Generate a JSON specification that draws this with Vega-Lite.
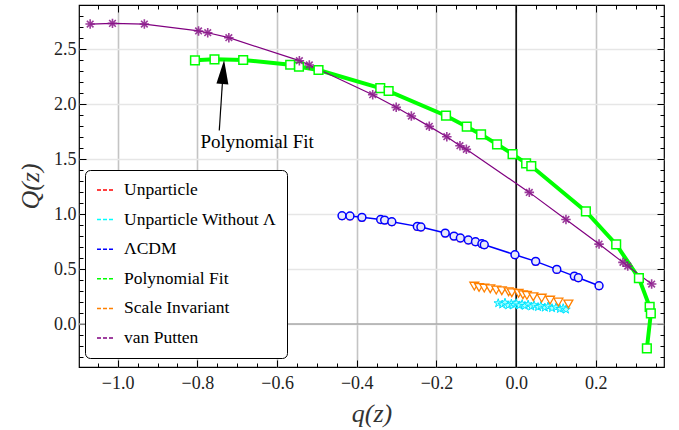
{
  "$schema": "https://vega.github.io/schema/vega-lite/v6.json",
  "width": 585,
  "height": 362,
  "autosize": {"type": "none"},
  "padding": {"left": 79, "top": 5, "right": 15, "bottom": 63},
  "background": "white",
  "config": {
    "view": {"stroke": "black", "strokeWidth": 1.2},
    "font": "Liberation Serif",
    "axis": {
      "domain": false,
      "labelFont": "Liberation Serif",
      "labelFontSize": 18,
      "labelColor": "#222222",
      "tickColor": "black",
      "titleFont": "Liberation Serif",
      "titleFontStyle": "italic",
      "titleFontWeight": "normal",
      "titleFontSize": 26,
      "titleColor": "#333333"
    }
  },
  "datasets": {
    "pts": [
      {"s": "van Putten", "q": -1.069, "Q": 2.727},
      {"s": "van Putten", "q": -1.013, "Q": 2.733},
      {"s": "van Putten", "q": -0.933, "Q": 2.727},
      {"s": "van Putten", "q": -0.797, "Q": 2.664},
      {"s": "van Putten", "q": -0.774, "Q": 2.648},
      {"s": "van Putten", "q": -0.721, "Q": 2.603},
      {"s": "van Putten", "q": -0.544, "Q": 2.394},
      {"s": "van Putten", "q": -0.519, "Q": 2.355},
      {"s": "van Putten", "q": -0.36, "Q": 2.085},
      {"s": "van Putten", "q": -0.301, "Q": 1.97},
      {"s": "van Putten", "q": -0.263, "Q": 1.891},
      {"s": "van Putten", "q": -0.218, "Q": 1.797},
      {"s": "van Putten", "q": -0.174, "Q": 1.703},
      {"s": "van Putten", "q": -0.141, "Q": 1.621},
      {"s": "van Putten", "q": -0.125, "Q": 1.588},
      {"s": "van Putten", "q": 0.033, "Q": 1.197},
      {"s": "van Putten", "q": 0.125, "Q": 0.951},
      {"s": "van Putten", "q": 0.208, "Q": 0.727},
      {"s": "van Putten", "q": 0.268, "Q": 0.561},
      {"s": "van Putten", "q": 0.28, "Q": 0.527},
      {"s": "van Putten", "q": 0.34, "Q": 0.364},
      {"s": "Polynomial Fit", "k": 1, "q": -0.806, "Q": 2.397},
      {"s": "Polynomial Fit", "k": 2, "q": -0.757, "Q": 2.406},
      {"s": "Polynomial Fit", "k": 3, "q": -0.685, "Q": 2.4},
      {"s": "Polynomial Fit", "k": 4, "q": -0.567, "Q": 2.357},
      {"s": "Polynomial Fit", "k": 5, "q": -0.545, "Q": 2.339},
      {"s": "Polynomial Fit", "k": 6, "q": -0.496, "Q": 2.309},
      {"s": "Polynomial Fit", "k": 7, "q": -0.341, "Q": 2.145},
      {"s": "Polynomial Fit", "k": 8, "q": -0.32, "Q": 2.118},
      {"s": "Polynomial Fit", "k": 9, "q": -0.176, "Q": 1.894},
      {"s": "Polynomial Fit", "k": 10, "q": -0.124, "Q": 1.794},
      {"s": "Polynomial Fit", "k": 11, "q": -0.088, "Q": 1.724},
      {"s": "Polynomial Fit", "k": 12, "q": -0.048, "Q": 1.634},
      {"s": "Polynomial Fit", "k": 13, "q": -0.009, "Q": 1.545},
      {"s": "Polynomial Fit", "k": 14, "q": 0.025, "Q": 1.461},
      {"s": "Polynomial Fit", "k": 15, "q": 0.038, "Q": 1.436},
      {"s": "Polynomial Fit", "k": 16, "q": 0.175, "Q": 1.024},
      {"s": "Polynomial Fit", "k": 17, "q": 0.251, "Q": 0.724},
      {"s": "Polynomial Fit", "k": 18, "q": 0.308, "Q": 0.418},
      {"s": "Polynomial Fit", "k": 19, "q": 0.335, "Q": 0.157},
      {"s": "Polynomial Fit", "k": 20, "q": 0.338, "Q": 0.097},
      {"s": "Polynomial Fit", "k": 21, "q": 0.328, "Q": -0.221},
      {"s": "ΛCDM", "q": -0.437, "Q": 0.985},
      {"s": "ΛCDM", "q": -0.417, "Q": 0.982},
      {"s": "ΛCDM", "q": -0.387, "Q": 0.97},
      {"s": "ΛCDM", "q": -0.34, "Q": 0.951},
      {"s": "ΛCDM", "q": -0.33, "Q": 0.945},
      {"s": "ΛCDM", "q": -0.312, "Q": 0.93},
      {"s": "ΛCDM", "q": -0.248, "Q": 0.888},
      {"s": "ΛCDM", "q": -0.239, "Q": 0.882},
      {"s": "ΛCDM", "q": -0.178, "Q": 0.827},
      {"s": "ΛCDM", "q": -0.156, "Q": 0.8},
      {"s": "ΛCDM", "q": -0.14, "Q": 0.782},
      {"s": "ΛCDM", "q": -0.12, "Q": 0.764},
      {"s": "ΛCDM", "q": -0.102, "Q": 0.748},
      {"s": "ΛCDM", "q": -0.086, "Q": 0.73},
      {"s": "ΛCDM", "q": -0.08, "Q": 0.721},
      {"s": "ΛCDM", "q": -0.003, "Q": 0.63},
      {"s": "ΛCDM", "q": 0.049, "Q": 0.57},
      {"s": "ΛCDM", "q": 0.102, "Q": 0.497},
      {"s": "ΛCDM", "q": 0.146, "Q": 0.436},
      {"s": "ΛCDM", "q": 0.156, "Q": 0.421},
      {"s": "ΛCDM", "q": 0.208, "Q": 0.348},
      {"s": "Unparticle", "q": -0.437, "Q": 0.972},
      {"s": "Unparticle", "q": -0.417, "Q": 0.969},
      {"s": "Unparticle", "q": -0.387, "Q": 0.957},
      {"s": "Unparticle", "q": -0.34, "Q": 0.938},
      {"s": "Unparticle", "q": -0.33, "Q": 0.932},
      {"s": "Unparticle", "q": -0.312, "Q": 0.917},
      {"s": "Unparticle", "q": -0.248, "Q": 0.875},
      {"s": "Unparticle", "q": -0.239, "Q": 0.869},
      {"s": "Unparticle", "q": -0.178, "Q": 0.814},
      {"s": "Unparticle", "q": -0.156, "Q": 0.787},
      {"s": "Unparticle", "q": -0.14, "Q": 0.769},
      {"s": "Unparticle", "q": -0.12, "Q": 0.751},
      {"s": "Unparticle", "q": -0.102, "Q": 0.735},
      {"s": "Unparticle", "q": -0.086, "Q": 0.717},
      {"s": "Unparticle", "q": -0.08, "Q": 0.708},
      {"s": "Unparticle", "q": -0.003, "Q": 0.617},
      {"s": "Unparticle", "q": 0.049, "Q": 0.557},
      {"s": "Unparticle", "q": 0.102, "Q": 0.484},
      {"s": "Unparticle", "q": 0.146, "Q": 0.423},
      {"s": "Unparticle", "q": 0.156, "Q": 0.408},
      {"s": "Unparticle", "q": 0.208, "Q": 0.335},
      {"s": "Scale Invariant", "q": -0.105, "Q": 0.345},
      {"s": "Scale Invariant", "q": -0.093, "Q": 0.333},
      {"s": "Scale Invariant", "q": -0.08, "Q": 0.327},
      {"s": "Scale Invariant", "q": -0.065, "Q": 0.321},
      {"s": "Scale Invariant", "q": -0.05, "Q": 0.309},
      {"s": "Scale Invariant", "q": -0.036, "Q": 0.303},
      {"s": "Scale Invariant", "q": -0.019, "Q": 0.294},
      {"s": "Scale Invariant", "q": -0.011, "Q": 0.285},
      {"s": "Scale Invariant", "q": 0.006, "Q": 0.279},
      {"s": "Scale Invariant", "q": 0.017, "Q": 0.267},
      {"s": "Scale Invariant", "q": 0.027, "Q": 0.261},
      {"s": "Scale Invariant", "q": 0.043, "Q": 0.248},
      {"s": "Scale Invariant", "q": 0.064, "Q": 0.236},
      {"s": "Scale Invariant", "q": 0.085, "Q": 0.218},
      {"s": "Scale Invariant", "q": 0.106, "Q": 0.2},
      {"s": "Scale Invariant", "q": 0.131, "Q": 0.182},
      {"s": "Unparticle Without Λ", "q": -0.045, "Q": 0.19},
      {"s": "Unparticle Without Λ", "q": -0.035, "Q": 0.178},
      {"s": "Unparticle Without Λ", "q": -0.028, "Q": 0.195},
      {"s": "Unparticle Without Λ", "q": -0.02, "Q": 0.17},
      {"s": "Unparticle Without Λ", "q": -0.012, "Q": 0.186},
      {"s": "Unparticle Without Λ", "q": -0.005, "Q": 0.175},
      {"s": "Unparticle Without Λ", "q": 0.0, "Q": 0.19},
      {"s": "Unparticle Without Λ", "q": 0.008, "Q": 0.17},
      {"s": "Unparticle Without Λ", "q": 0.015, "Q": 0.182},
      {"s": "Unparticle Without Λ", "q": 0.022, "Q": 0.166},
      {"s": "Unparticle Without Λ", "q": 0.03, "Q": 0.178},
      {"s": "Unparticle Without Λ", "q": 0.038, "Q": 0.16},
      {"s": "Unparticle Without Λ", "q": 0.045, "Q": 0.172},
      {"s": "Unparticle Without Λ", "q": 0.055, "Q": 0.155},
      {"s": "Unparticle Without Λ", "q": 0.062, "Q": 0.165},
      {"s": "Unparticle Without Λ", "q": 0.072, "Q": 0.15},
      {"s": "Unparticle Without Λ", "q": 0.08, "Q": 0.16},
      {"s": "Unparticle Without Λ", "q": 0.09, "Q": 0.145},
      {"s": "Unparticle Without Λ", "q": 0.1, "Q": 0.152},
      {"s": "Unparticle Without Λ", "q": 0.11, "Q": 0.138},
      {"s": "Unparticle Without Λ", "q": 0.118, "Q": 0.145},
      {"s": "Unparticle Without Λ", "q": 0.125, "Q": 0.132}
    ]
  },
  "data": {"name": "pts"},
  "resolve": {"axis": {"x": "independent", "y": "independent"}},
  "layer": [
    {
      "data": {"values": [{"Q": 0}]},
      "mark": {"type": "rule", "color": "#a8a8a8", "strokeWidth": 1.5},
      "encoding": {"y": {"field": "Q", "type": "quantitative", "scale": {"domain": [-0.39, 2.9], "nice": false, "zero": false}, "axis": null}}
    },
    {
      "data": {"values": [{"q": 0}]},
      "mark": {"type": "rule", "color": "black", "strokeWidth": 1.5},
      "encoding": {"x": {"field": "q", "type": "quantitative", "scale": {"domain": [-1.097, 0.371], "nice": false, "zero": false}, "axis": null}}
    },
    {
      "transform": [{"filter": "datum.s === 'Polynomial Fit'"}],
      "mark": {"type": "line", "strokeWidth": 4},
      "encoding": {
        "x": {"field": "q", "type": "quantitative", "axis": {"orient": "top", "values": [-1, -0.8, -0.6, -0.4, -0.2, 0, 0.2], "labels": false, "grid": false, "tickSize": -7, "title": null}},
        "y": {"field": "Q", "type": "quantitative", "axis": {"orient": "right", "values": [0, 0.5, 1, 1.5, 2, 2.5], "labels": false, "grid": false, "tickSize": -7, "title": null}},
        "order": {"field": "k", "type": "quantitative"},
        "color": {
          "field": "s", "type": "nominal",
          "scale": {"domain": ["Unparticle", "Unparticle Without Λ", "ΛCDM", "Polynomial Fit", "Scale Invariant", "van Putten"], "range": ["#ff0000", "#00ffff", "#0000ff", "#00ff00", "#ff8000", "#800080"]},
          "legend": {
            "orient": "none", "legendX": 6, "legendY": 165, "title": null,
            "labelFont": "Liberation Serif", "labelFontSize": 17.5, "labelColor": "black",
            "symbolType": "stroke", "symbolDash": [4, 2], "symbolStrokeWidth": 1.5, "symbolSize": 256,
            "labelOffset": 10, "rowPadding": 11.6, "padding": 11,
            "strokeColor": "black", "fillColor": "white", "cornerRadius": 5
          }
        }
      }
    },
    {
      "transform": [{"filter": "datum.s === 'ΛCDM'"}],
      "mark": {"type": "line", "strokeWidth": 1.5},
      "encoding": {
        "x": {"field": "q", "type": "quantitative", "axis": {"orient": "bottom", "values": [-1.05, -0.95, -0.9, -0.85, -0.75, -0.7, -0.65, -0.55, -0.5, -0.45, -0.35, -0.3, -0.25, -0.15, -0.1, -0.05, 0.05, 0.1, 0.15, 0.25, 0.3, 0.35], "labels": false, "grid": false, "tickSize": -4, "title": null}},
        "y": {"field": "Q", "type": "quantitative", "axis": {"orient": "left", "values": [-0.3, -0.2, -0.1, 0.1, 0.2, 0.3, 0.4, 0.6, 0.7, 0.8, 0.9, 1.1, 1.2, 1.3, 1.4, 1.6, 1.7, 1.8, 1.9, 2.1, 2.2, 2.3, 2.4, 2.6, 2.7, 2.8], "labels": false, "grid": false, "tickSize": -4, "title": null}},
        "color": {"field": "s", "type": "nominal"}
      }
    },
    {
      "transform": [{"filter": "datum.s === 'van Putten'"}],
      "mark": {"type": "line", "strokeWidth": 1.2},
      "encoding": {
        "x": {"field": "q", "type": "quantitative", "axis": null},
        "y": {"field": "Q", "type": "quantitative", "axis": null},
        "color": {"field": "s", "type": "nominal"}
      }
    },
    {
      "transform": [{"filter": "datum.s === 'Unparticle'"}],
      "mark": {"type": "point", "shape": "triangle-up", "filled": true, "color": "#ff0000", "size": 40},
      "encoding": {
        "x": {"field": "q", "type": "quantitative", "axis": null},
        "y": {"field": "Q", "type": "quantitative", "axis": null}
      }
    },
    {
      "transform": [{"filter": "datum.s === 'ΛCDM'"}],
      "mark": {"type": "point", "shape": "circle", "fill": "#e8e8fa", "fillOpacity": 1, "stroke": "#0000ff", "strokeWidth": 1.5, "size": 62},
      "encoding": {
        "x": {"field": "q", "type": "quantitative", "axis": null},
        "y": {"field": "Q", "type": "quantitative", "axis": null}
      }
    },
    {
      "transform": [{"filter": "datum.s === 'Unparticle Without Λ'"}],
      "mark": {"type": "point", "shape": "M0,-1L0.2245,-0.309L0.951,-0.309L0.363,0.118L0.588,0.809L0,0.382L-0.588,0.809L-0.363,0.118L-0.951,-0.309L-0.2245,-0.309Z", "fill": "#aaffff", "fillOpacity": 1, "stroke": "#00e5ff", "strokeWidth": 1, "size": 80},
      "encoding": {
        "x": {"field": "q", "type": "quantitative", "axis": null},
        "y": {"field": "Q", "type": "quantitative", "axis": null}
      }
    },
    {
      "transform": [{"filter": "datum.s === 'Scale Invariant'"}],
      "mark": {"type": "point", "shape": "triangle-down", "fill": "white", "fillOpacity": 1, "stroke": "#ff8000", "strokeWidth": 1.3, "size": 80},
      "encoding": {
        "x": {"field": "q", "type": "quantitative", "axis": {"orient": "top", "values": [-1.05, -0.95, -0.9, -0.85, -0.75, -0.7, -0.65, -0.55, -0.5, -0.45, -0.35, -0.3, -0.25, -0.15, -0.1, -0.05, 0.05, 0.1, 0.15, 0.25, 0.3, 0.35], "labels": false, "grid": false, "tickSize": -4, "title": null}},
        "y": {"field": "Q", "type": "quantitative", "axis": {"orient": "right", "values": [-0.3, -0.2, -0.1, 0.1, 0.2, 0.3, 0.4, 0.6, 0.7, 0.8, 0.9, 1.1, 1.2, 1.3, 1.4, 1.6, 1.7, 1.8, 1.9, 2.1, 2.2, 2.3, 2.4, 2.6, 2.7, 2.8], "labels": false, "grid": false, "tickSize": -4, "title": null}}
      }
    },
    {
      "transform": [{"filter": "datum.s === 'Polynomial Fit'"}],
      "mark": {"type": "point", "shape": "square", "fill": "white", "fillOpacity": 1, "stroke": "#00ff00", "strokeWidth": 1.5, "size": 75},
      "encoding": {
        "x": {"field": "q", "type": "quantitative", "axis": null},
        "y": {"field": "Q", "type": "quantitative", "axis": null}
      }
    },
    {
      "transform": [{"filter": "datum.s === 'van Putten'"}],
      "mark": {"type": "point", "shape": "M0,-1L0,1M-1,0L1,0M-0.7,-0.7L0.7,0.7M-0.7,0.7L0.7,-0.7", "stroke": "#8b1a8b", "strokeWidth": 1.6, "size": 90, "opacity": 0.85},
      "encoding": {
        "x": {"field": "q", "type": "quantitative", "axis": {"orient": "bottom", "values": [-1, -0.8, -0.6, -0.4, -0.2, 0, 0.2], "format": ".1f", "labelFont": "Liberation Serif", "grid": true, "gridColor": "#c4c4c4", "gridWidth": 1.6, "tickSize": -7, "labelPadding": 14, "title": "q(z)", "titlePadding": 8}},
        "y": {"field": "Q", "type": "quantitative", "axis": {"orient": "left", "values": [0, 0.5, 1, 1.5, 2, 2.5], "format": ".1f", "labelFont": "Liberation Serif", "grid": true, "gridColor": "#e6e6e6", "gridWidth": 1.4, "tickSize": -7, "labelPadding": 10, "title": "Q(z)", "titlePadding": 10}}
      }
    },
    {
      "data": {"values": [{"q": -0.745, "Q": 1.76, "q2": -0.737, "Q2": 2.2}]},
      "mark": {"type": "rule", "color": "black", "strokeWidth": 1.2},
      "encoding": {
        "x": {"field": "q", "type": "quantitative", "axis": null},
        "y": {"field": "Q", "type": "quantitative", "axis": null},
        "x2": {"field": "q2"},
        "y2": {"field": "Q2"}
      }
    },
    {
      "data": {"values": [{"q": -0.735, "Q": 2.291}]},
      "mark": {"type": "point", "shape": "M0,-1L0.5,1L-0.5,1Z", "filled": true, "color": "black", "opacity": 1, "size": 576, "angle": 4},
      "encoding": {
        "x": {"field": "q", "type": "quantitative", "axis": null},
        "y": {"field": "Q", "type": "quantitative", "axis": null}
      }
    },
    {
      "data": {"values": [{"q": -0.65, "Q": 1.655, "label": "Polynomial Fit"}]},
      "mark": {"type": "text", "font": "Liberation Serif", "fontSize": 19, "color": "black", "align": "center", "baseline": "middle"},
      "encoding": {
        "x": {"field": "q", "type": "quantitative", "axis": null},
        "y": {"field": "Q", "type": "quantitative", "axis": null},
        "text": {"field": "label"}
      }
    }
  ]
}
